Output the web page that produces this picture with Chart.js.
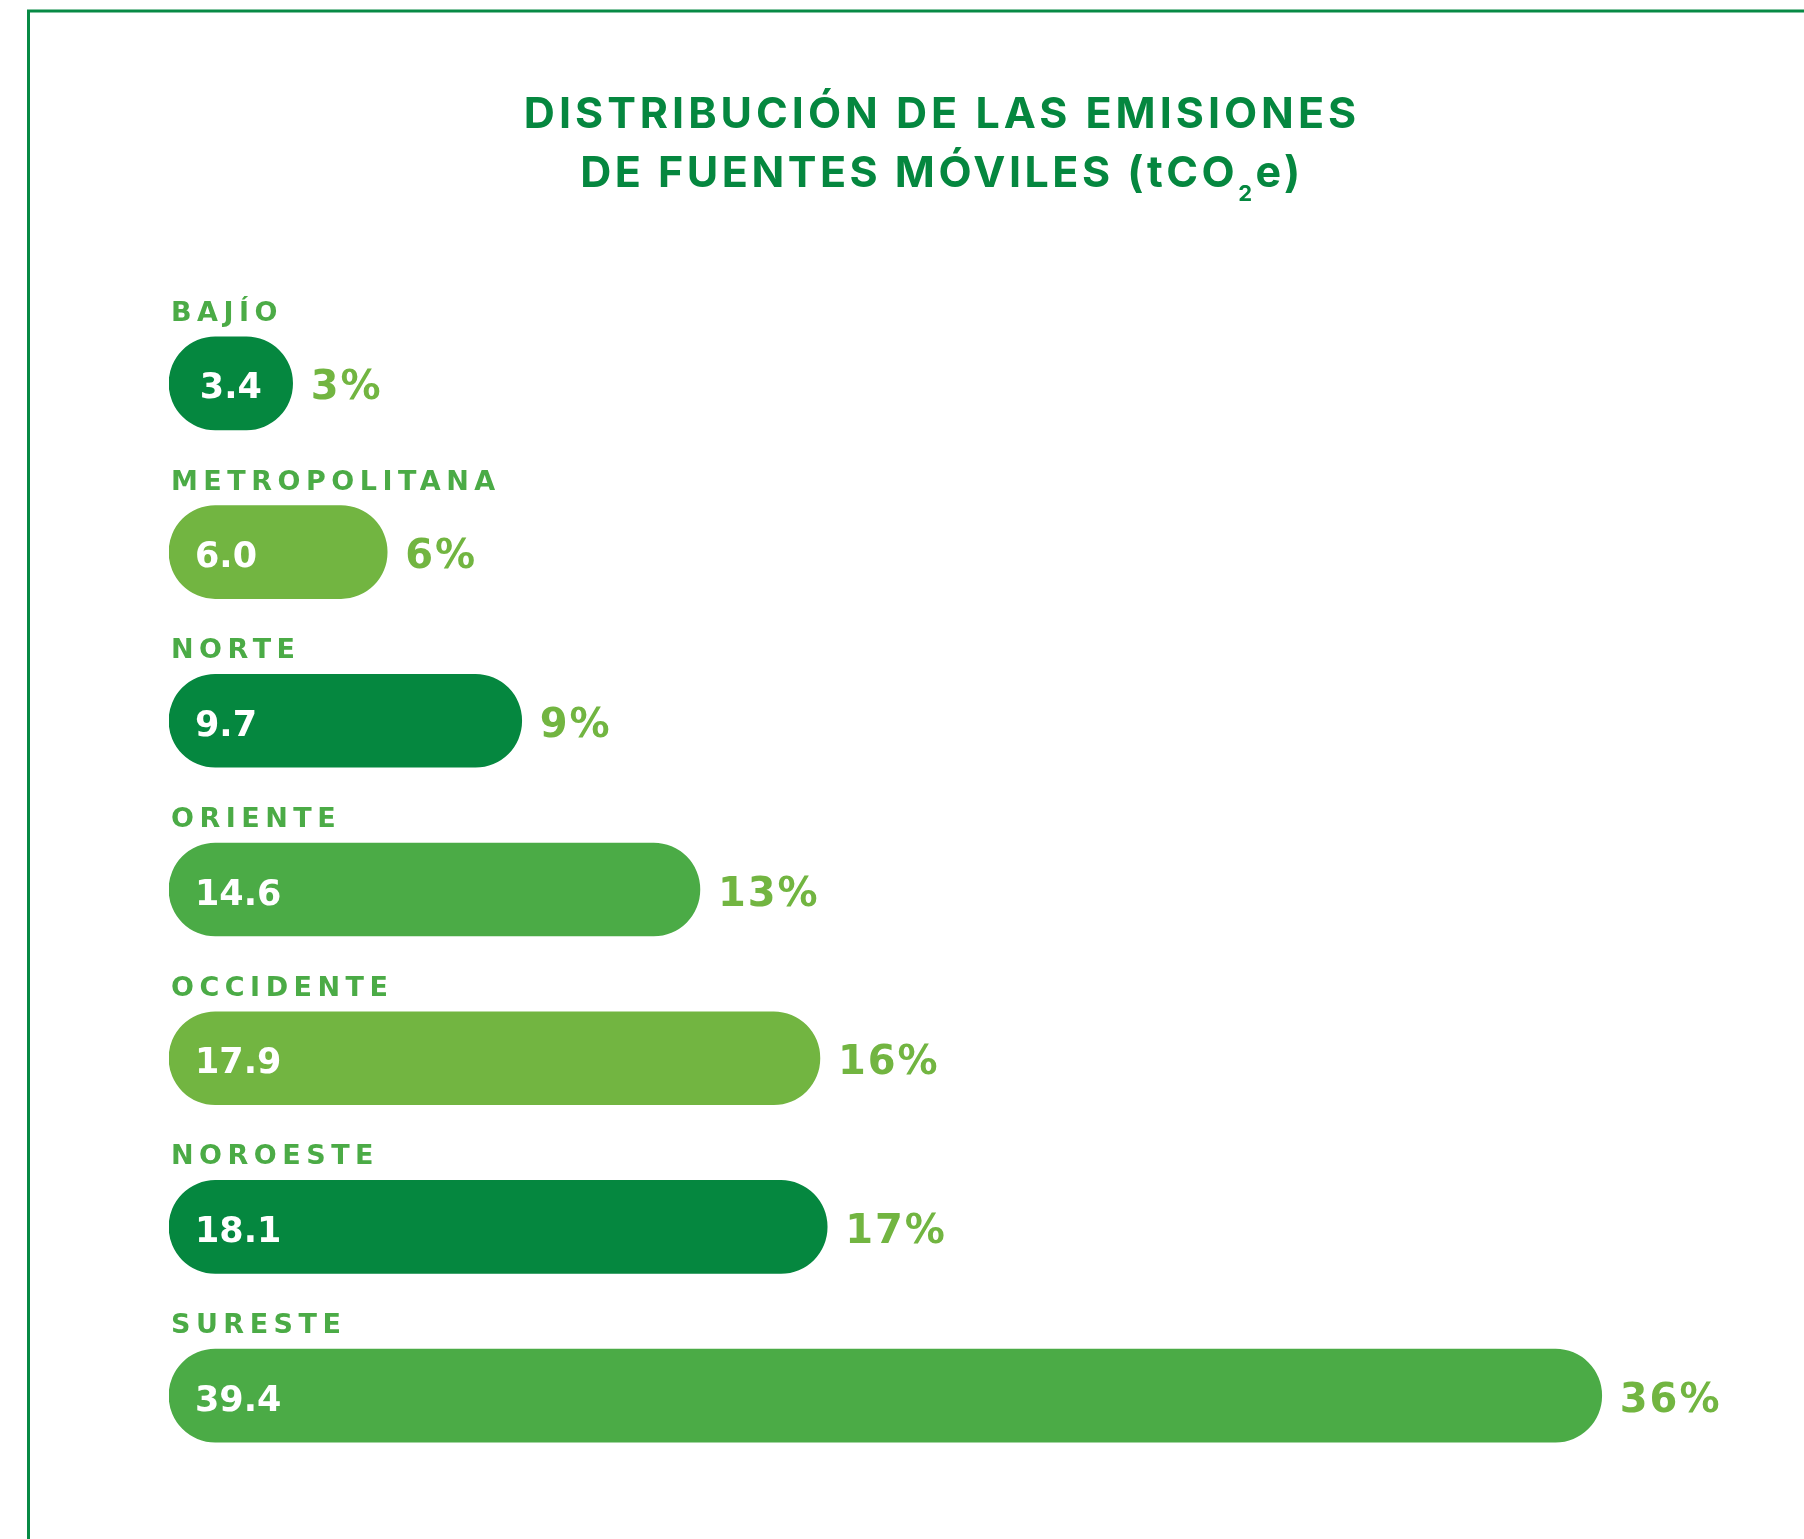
<!DOCTYPE html>
<html>
<head>
<meta charset="utf-8">
<script src="https://cdn.jsdelivr.net/npm/chart.js@4/dist/chart.umd.min.js"></script>
<style>
html, body { margin: 0; padding: 0; background: #fff; }
</style>
</head>
<body>
<canvas id="myChart" width="1804" height="1539"></canvas>
<script>
var regions = ['BAJÍO', 'METROPOLITANA', 'NORTE', 'ORIENTE', 'OCCIDENTE', 'NOROESTE', 'SURESTE'];
var emissions = [3.4, 6.0, 9.7, 14.6, 17.9, 18.1, 39.4];
var percents = [3, 6, 9, 13, 16, 17, 36];
var barColors = ['#05873f', '#72b541', '#05873f', '#4bab46', '#72b541', '#05873f', '#4bab46'];
var titleLine1 = 'DISTRIBUCIÓN DE LAS EMISIONES';
var titleLine2 = ['DE FUENTES MÓVILES (tCO', '2', 'e)'];

var darkGreen = '#05873f';
var labelGreen = '#4bab46';
var pctGreen = '#72b541';

// frame + title + text on bars
var decorPlugin = {
    id: 'decor',
    beforeDraw: function (chart) {
        var ctx = chart.ctx;
        ctx.save();
        ctx.strokeStyle = '#078a45';
        ctx.lineWidth = 3;
        ctx.beginPath();
        ctx.moveTo(28.5, chart.height);
        ctx.lineTo(28.5, 11);
        ctx.lineTo(chart.width, 11);
        ctx.stroke();

        // title
        var cx = 942;
        ctx.fillStyle = darkGreen;
        ctx.textBaseline = 'alphabetic';
        ctx.font = 'bold 43px Inter';
        ctx.letterSpacing = '4px';
        ctx.textAlign = 'center';
        ctx.fillText(titleLine1, cx, 128);

        // second line with subscript
        ctx.letterSpacing = '3.5px';
        ctx.textAlign = 'left';
        var w1 = ctx.measureText(titleLine2[0]).width;
        var w3 = ctx.measureText(titleLine2[2]).width;
        ctx.font = 'bold 22px Inter';
        var w2 = ctx.measureText(titleLine2[1]).width;
        var x0 = cx - (w1 + w2 + w3) / 2;
        ctx.font = 'bold 43px Inter';
        ctx.fillText(titleLine2[0], x0, 187);
        ctx.font = 'bold 22px Inter';
        ctx.fillText(titleLine2[1], x0 + w1, 201);
        ctx.font = 'bold 43px Inter';
        ctx.fillText(titleLine2[2], x0 + w1 + w2, 187);
        ctx.restore();
    },
    afterDatasetsDraw: function (chart) {
        var ctx = chart.ctx;
        var meta = chart.getDatasetMeta(0);
        ctx.save();
        ctx.textBaseline = 'alphabetic';
        meta.data.forEach(function (bar, i) {
            var top = bar.y - bar.height / 2;
            var left = Math.min(bar.x, bar.base);
            var right = Math.max(bar.x, bar.base);

            // region name above bar
            ctx.font = 'bold 27px "DejaVu Sans"';
            ctx.letterSpacing = '5.5px';
            ctx.fillStyle = labelGreen;
            ctx.textAlign = 'left';
            ctx.fillText(regions[i], left + 2, top - 16);

            // value inside bar
            ctx.font = 'bold 35px "DejaVu Sans"';
            ctx.letterSpacing = '0px';
            ctx.fillStyle = '#ffffff';
            var txt = emissions[i].toFixed(1);
            if (right - left < 140) {
                ctx.textAlign = 'center';
                ctx.fillText(txt, (left + right) / 2, bar.y + 15);
            } else {
                ctx.textAlign = 'left';
                ctx.fillText(txt, left + 26, bar.y + 15);
            }

            // percent after bar
            ctx.font = 'bold 40px "DejaVu Sans"';
            ctx.letterSpacing = '2px';
            ctx.fillStyle = pctGreen;
            ctx.textAlign = 'left';
            ctx.fillText(percents[i] + '%', right + 18, bar.y + 16);
        });
        ctx.restore();
    }
};

var myChart = new Chart('myChart', {
    type: 'bar',
    data: {
        labels: regions,
        datasets: [{
            label: 'tCO2e',
            data: emissions,
            backgroundColor: barColors,
            barThickness: 93,
            borderRadius: 47,
            borderSkipped: false
        }]
    },
    options: {
        responsive: false,
        animation: false,
        indexAxis: 'y',
        layout: { padding: { left: 169, top: 299, right: 35, bottom: 59 } },
        scales: {
            x: { display: false, min: 0, max: 44 },
            y: { display: false }
        },
        plugins: {
            legend: { display: false },
            tooltip: { enabled: false }
        }
    },
    plugins: [decorPlugin]
});
</script>
</body>
</html>
